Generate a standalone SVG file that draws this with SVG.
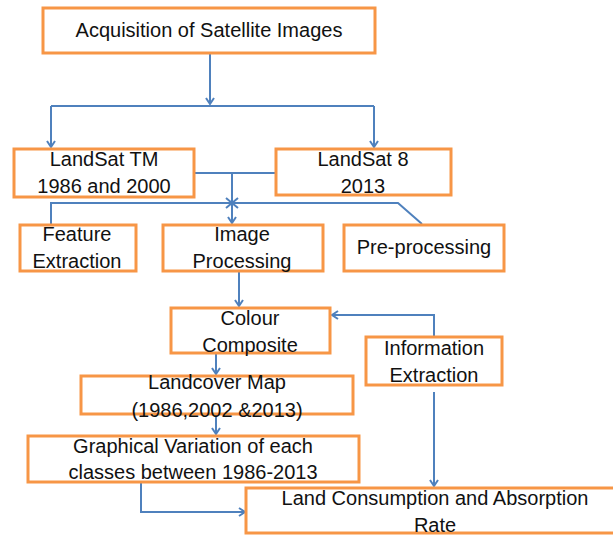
<svg xmlns="http://www.w3.org/2000/svg" width="613" height="535" viewBox="0 0 613 535">
<defs>
<style>
.box{fill:#fff;stroke:#F79646;stroke-width:3}
.t{font-family:"Liberation Sans",Arial,sans-serif;font-size:20px;fill:#111;text-anchor:middle}
.c{fill:none;stroke:#4F81BD;stroke-width:2}
</style>
<marker id="ah" markerWidth="10" markerHeight="10" refX="7" refY="5" orient="auto" markerUnits="userSpaceOnUse">
<path d="M1,1 L7,5 L1,9" fill="none" stroke="#4F81BD" stroke-width="2"/>
</marker>
</defs>
<rect width="613" height="535" fill="#fff"/>
<g id="connectors">
<path class="c" d="M210,53 V104" marker-end="url(#ah)"/>
<path class="c" d="M51,106 H374"/>
<path class="c" d="M51,106 V147" marker-end="url(#ah)"/>
<path class="c" d="M374,106 V147" marker-end="url(#ah)"/>
<path class="c" d="M194,173 H276"/>
<path class="c" d="M232,173 V223" marker-end="url(#ah)"/>
<path class="c" d="M51,224 V203 H398 L422,224"/>
<path class="c" d="M226,198 L238,208 M238,198 L226,208"/>
<path class="c" d="M239,271 V306" marker-end="url(#ah)"/>
<path class="c" d="M434,337 V315 H332" marker-end="url(#ah)"/>
<path class="c" d="M216,353 V374" marker-end="url(#ah)"/>
<path class="c" d="M434,392 V486" marker-end="url(#ah)"/>
<path class="c" d="M216,414 V434" marker-end="url(#ah)"/>
<path class="c" d="M141,482 V512 H245" marker-end="url(#ah)"/>
</g>
<g id="acquisition">
<rect class="box" x="43" y="8" width="332" height="45"/>
<text class="t" x="209" y="37">Acquisition of Satellite Images</text>
</g>
<g id="landsat-tm">
<rect class="box" x="14" y="149" width="180" height="48"/>
<text class="t" x="104" y="166">LandSat TM</text>
<text class="t" x="104" y="193">1986 and 2000</text>
</g>
<g id="landsat-8">
<rect class="box" x="276" y="149" width="175" height="46"/>
<text class="t" x="363" y="166">LandSat 8</text>
<text class="t" x="363" y="193">2013</text>
</g>
<g id="feature-extraction">
<rect class="box" x="20" y="225" width="116" height="46"/>
<text class="t" x="77" y="241">Feature</text>
<text class="t" x="77" y="268">Extraction</text>
</g>
<g id="image-processing">
<rect class="box" x="163" y="225" width="160" height="46"/>
<text class="t" x="242" y="241">Image</text>
<text class="t" x="242" y="268">Processing</text>
</g>
<g id="pre-processing">
<rect class="box" x="344" y="225" width="160" height="46"/>
<text class="t" x="424" y="254">Pre-processing</text>
</g>
<g id="colour-composite">
<rect class="box" x="171" y="308" width="159" height="45"/>
<text class="t" x="250" y="325">Colour</text>
<text class="t" x="250" y="352">Composite</text>
</g>
<g id="information-extraction">
<rect class="box" x="366" y="337" width="136" height="48"/>
<text class="t" x="434" y="355">Information</text>
<text class="t" x="434" y="382">Extraction</text>
</g>
<g id="landcover-map">
<rect class="box" x="81" y="376" width="272" height="38"/>
<text class="t" x="217" y="389">Landcover Map</text>
<text class="t" x="217" y="417">(1986,2002 &amp;2013)</text>
</g>
<g id="graphical-variation">
<rect class="box" x="28" y="436" width="331" height="46"/>
<text class="t" x="193" y="453">Graphical Variation of each</text>
<text class="t" x="193" y="479">classes between 1986-2013</text>
</g>
<g id="land-consumption">
<rect class="box" x="246" y="488" width="372" height="45"/>
<text class="t" x="435" y="505">Land Consumption and Absorption</text>
<text class="t" x="435" y="532">Rate</text>
</g>
</svg>
